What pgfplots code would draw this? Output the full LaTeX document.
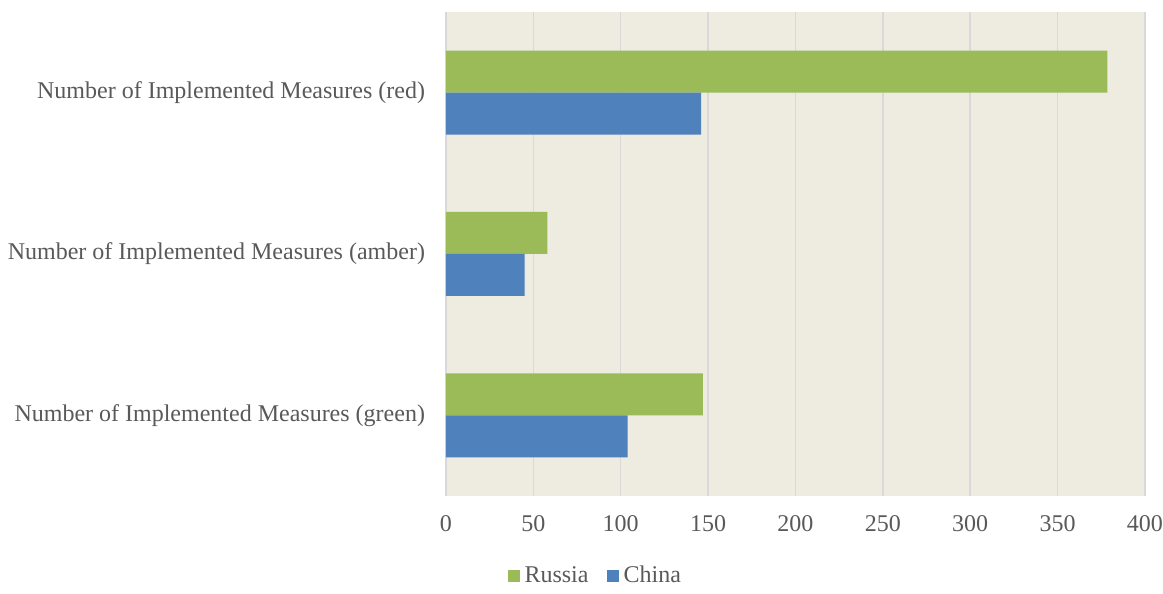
\documentclass[border=0pt]{standalone}
\usepackage{pgfplots}
\pgfplotsset{compat=1.18}
\usepackage{fontspec}
\setmainfont{Liberation Serif}

\definecolor{rus}{HTML}{9BBB59}
\definecolor{chn}{HTML}{4F81BD}
\definecolor{bg}{HTML}{EEEBE0}
\definecolor{grd}{HTML}{D9D9D9}
\definecolor{txt}{HTML}{595959}

\begin{document}
\begin{tikzpicture}
  \begin{axis}[
      name=ax,
      scale only axis,
      width=349.5pt, height=242pt,
      xbar,
      bar width=21pt,
      xmin=0, xmax=400,
      xtick={0,50,...,400},
      ymin=-0.5, ymax=2.5,
      ytick={0,1,2},
      yticklabels={Number of Implemented Measures (green),
                   Number of Implemented Measures (amber),
                   Number of Implemented Measures (red)},
      xmajorgrids,
      major grid style={grd, line width=0.75pt},
      axis line style={draw=none},
      tick style={draw=none},
      axis background/.style={fill=bg},
      /pgf/number format/assume math mode=true,
      ticklabel style={font=\fontsize{12}{14}\selectfont, text=txt},
      xticklabel style={anchor=base, yshift=-17.75pt, inner sep=0pt},
      yticklabel style={anchor=east, xshift=-6pt, inner sep=0pt},
      legend columns=2,
      legend style={at={(0.215,-0.165)}, anchor=center, draw=none, fill=none,
                    font=\fontsize{12}{14}\selectfont, text=txt,
                    /tikz/every even column/.append style={column sep=7pt},
                    /tikz/every odd column/.append style={column sep=0.5pt}},
      legend image code/.code={\path[#1,draw=none] (0pt,-3pt) rectangle (6pt,3pt);},
    ]
    \addplot[fill=rus, draw=none, bar shift=10.5pt] coordinates {(147,0) (58,1) (378.5,2)};
    \addplot[fill=chn, draw=none, bar shift=-10.5pt] coordinates {(104,0) (45,1) (146,2)};
    \legend{Russia, China}
    \coordinate (bbsw) at (rel axis cs:-0.638,-0.1818);
    \coordinate (bbne) at (rel axis cs:1.0258,1.0248);
  \end{axis}
  \path (bbsw) rectangle (bbne);
\end{tikzpicture}
\end{document}
